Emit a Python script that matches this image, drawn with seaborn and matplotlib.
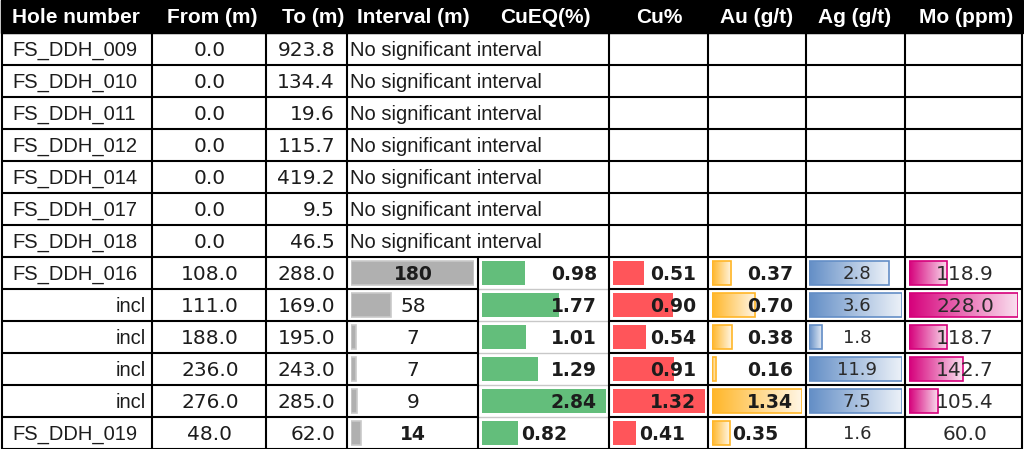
import numpy as np
import pandas as pd
import matplotlib
matplotlib.use("Agg")
import matplotlib.pyplot as plt
import matplotlib.transforms as mtransforms
from matplotlib.colors import to_rgb
import seaborn as sns

sns.set_theme(style="white")
plt.rcParams["font.family"] = ["Liberation Sans", "DejaVu Sans"]

# ---------------- data ----------------
headers = ["Hole number", "From (m)", "To (m)", "Interval (m)", "CuEQ(%)",
           "Cu%", "Au (g/t)", "Ag (g/t)", "Mo (ppm)"]
holes = ["FS_DDH_009", "FS_DDH_010", "FS_DDH_011", "FS_DDH_012", "FS_DDH_014",
         "FS_DDH_017", "FS_DDH_018", "FS_DDH_016", "incl", "incl", "incl", "incl",
         "FS_DDH_019"]
from_m = [0.0, 0.0, 0.0, 0.0, 0.0, 0.0, 0.0, 108.0, 111.0, 188.0, 236.0, 276.0, 48.0]
to_m = [923.8, 134.4, 19.6, 115.7, 419.2, 9.5, 46.5, 288.0, 169.0, 195.0, 243.0, 285.0, 62.0]
nan = np.nan
interval_m = [nan] * 7 + [180, 58, 7, 7, 9, 14]
cueq = [nan] * 7 + [0.98, 1.77, 1.01, 1.29, 2.84, 0.82]
cu = [nan] * 7 + [0.51, 0.90, 0.54, 0.91, 1.32, 0.41]
au = [nan] * 7 + [0.37, 0.70, 0.38, 0.16, 1.34, 0.35]
ag = [nan] * 7 + [2.8, 3.6, 1.8, 11.9, 7.5, 1.6]
mo = [nan] * 7 + [118.9, 228.0, 118.7, 142.7, 105.4, 60.0]
no_sig_text = "No significant interval"

# ---------------- layout ----------------
W, H = 1024, 449
HEAD = 33
ROWH = (H - HEAD) / len(holes)
col_edges = [2, 152, 266, 347, 478, 609, 708, 806, 905, 1022]
TXT = "#1c1c1c"
FS = 14.5
NUMF = ["DejaVu Sans"]
NUM_FS = 14.5
BOLD_FS = 13.5
DY = 1.0

fig = plt.figure(figsize=(W / 100, H / 100), dpi=100)
fig.patch.set_facecolor("white")
ax = fig.add_axes([0, 0, 1, 1])
ax.set_xlim(0, W)
ax.set_ylim(H, 0)
ax.axis("off")
ax.set_zorder(5)
ax.patch.set_visible(False)

rows = [f"r{i}" for i in range(len(holes))]


def rtop(i):
    return HEAD + ROWH * i


def rmid(i):
    return HEAD + ROWH * (i + 0.5) + DY


# header
ax.add_patch(plt.Rectangle((1, 0), W - 2, HEAD, color="black", zorder=1))
head_centers = [76, 212, 313, 413, 545, 659, 757, 855, 966]
for h, xc in zip(headers, head_centers):
    ax.text(xc, HEAD / 2 + 1, h, color="white", fontsize=15, fontweight="bold",
            ha="center", va="center", zorder=3)

# bar columns: (values, bar start px, bar end px, lo, hi, colour, edge, gradient)
bar_cols = [
    (interval_m, 351, 474, 0.0, 180.0, "#b0b0b0", "#c9c9c9", False),
    (cueq, 482, 606, 0.0, 2.84, "#63be7b", "none", False),
    (cu, 613, 705, 0.10, 1.32, "#ff555a", "none", False),
    (au, 712, 802, 0.11, 1.34, "#ffb628", "#ffb628", True),
    (ag, 809, 902, 1.6, 3.0, "#638ec6", "#638ec6", True),
    (mo, 909, 1018, 60.0, 228.0, "#d6007b", "#d6007b", True),
]
bar_axes = []
for vals, x0, x1, lo, hi, col, edge, grad in bar_cols:
    cax = fig.add_axes([x0 / W, 0, (x1 - x0) / W, (H - HEAD) / H])
    v = np.array(vals, dtype=float)
    df = pd.DataFrame({"row": rows, "len": np.clip(v, lo, hi) - lo})
    df = df.dropna()
    df = df[df["len"] > 0]
    sns.barplot(data=df, x="len", y="row", order=rows, orient="h", color=col,
                saturation=1, width=0.72, errorbar=None, ax=cax,
                edgecolor=edge, linewidth=0 if edge == "none" else 1.2)
    cax.set_xlim(0, hi - lo)
    cax.set_ylim(len(rows) - 0.5, -0.5)
    cax.axis("off")
    cax.patch.set_visible(False)
    if grad:
        c = np.array(to_rgb(col))
        t = np.linspace(0, 1, 256)[None, :, None]
        grad_img = c * (1 - t * 0.88) + np.ones(3) * t * 0.88
        for p in list(cax.patches):
            bx, by = p.get_x(), p.get_y()
            bw, bh = p.get_width(), p.get_height()
            im = cax.imshow(grad_img, extent=[bx, bx + bw, by + bh, by],
                            aspect="auto", zorder=1, interpolation="bilinear")
            im.set_clip_path(p)
            p.set_facecolor("none")
            p.set_zorder(2)
        cax.set_xlim(0, hi - lo)
        cax.set_ylim(len(rows) - 0.5, -0.5)
    bar_axes.append(cax)


def num(x, y, s, ha, bold=False, color=TXT, size=None):
    ax.text(x, y, s, ha=ha, va="center", family=NUMF,
            fontsize=size or (BOLD_FS if bold else NUM_FS),
            fontweight="bold" if bold else "normal", color=color)


# ---------------- text ----------------
for i, h in enumerate(holes):
    y = rmid(i)
    if h == "incl":
        ax.text(146, y, h, ha="right", va="center", fontsize=FS, color=TXT)
    else:
        ax.text(12, y, h, ha="left", va="center", fontsize=FS, color=TXT)
    num(210, y, f"{from_m[i]:.1f}", "center")
    num(335, y, f"{to_m[i]:.1f}", "right")
    if np.isnan(interval_m[i]):
        ax.text(350, y, no_sig_text, ha="left", va="center", fontsize=FS, color=TXT)
        continue
    bold_int = holes[i] != "incl"
    num(413, y, f"{interval_m[i]:.0f}", "center", bold=bold_int)
    last = i == len(holes) - 1
    for k, (vals, right, fmt) in enumerate([(cueq, 597, "{:.2f}"), (cu, 696, "{:.2f}"),
                                            (au, 793, "{:.2f}")]):
        s = fmt.format(vals[i])
        if last:
            cax = bar_axes[k + 1]
            lo, hi = bar_cols[k + 1][3], bar_cols[k + 1][4]
            L = min(max(vals[i], lo), hi) - lo
            tr = cax.transData + mtransforms.ScaledTranslation(3 / 100, -DY / 100,
                                                                 fig.dpi_scale_trans)
            cax.text(L, i, s, transform=tr, ha="left", va="center", family=NUMF,
                     fontsize=BOLD_FS, color=TXT, fontweight="bold", zorder=6)
        else:
            num(right, y, s, "right", bold=True)
    num(857, y, f"{ag[i]:.1f}", "center", color="#2a2a2a", size=13)
    num(965, y, f"{mo[i]:.1f}", "center", color="#2a2a2a")

# ---------------- grid lines ----------------
LW = 1.5
n = len(holes)
first_num = next(i for i in range(n) if not np.isnan(interval_m[i]))
for i in range(n + 1):
    y = rtop(i)
    if first_num < i < n:
        ax.plot([col_edges[0], col_edges[4]], [y, y], color="black", lw=LW, zorder=4)
        ax.plot([col_edges[4], col_edges[5]], [y, y], color="#c8c8c8", lw=1.0, zorder=4)
        ax.plot([col_edges[5], col_edges[-1]], [y, y], color="black", lw=LW, zorder=4)
    else:
        ax.plot([col_edges[0], col_edges[-1]], [y, y], color="black", lw=LW, zorder=4)
ax.plot([col_edges[0], col_edges[-1]], [1, 1], color="black", lw=LW, zorder=4)
for j, x in enumerate(col_edges):
    if j == 4:
        ax.plot([x, x], [rtop(first_num), H], color="black", lw=LW, zorder=4)
    else:
        ax.plot([x, x], [0, H], color="black", lw=LW, zorder=4)

fig.savefig("out.png", dpi=100, facecolor="white")
